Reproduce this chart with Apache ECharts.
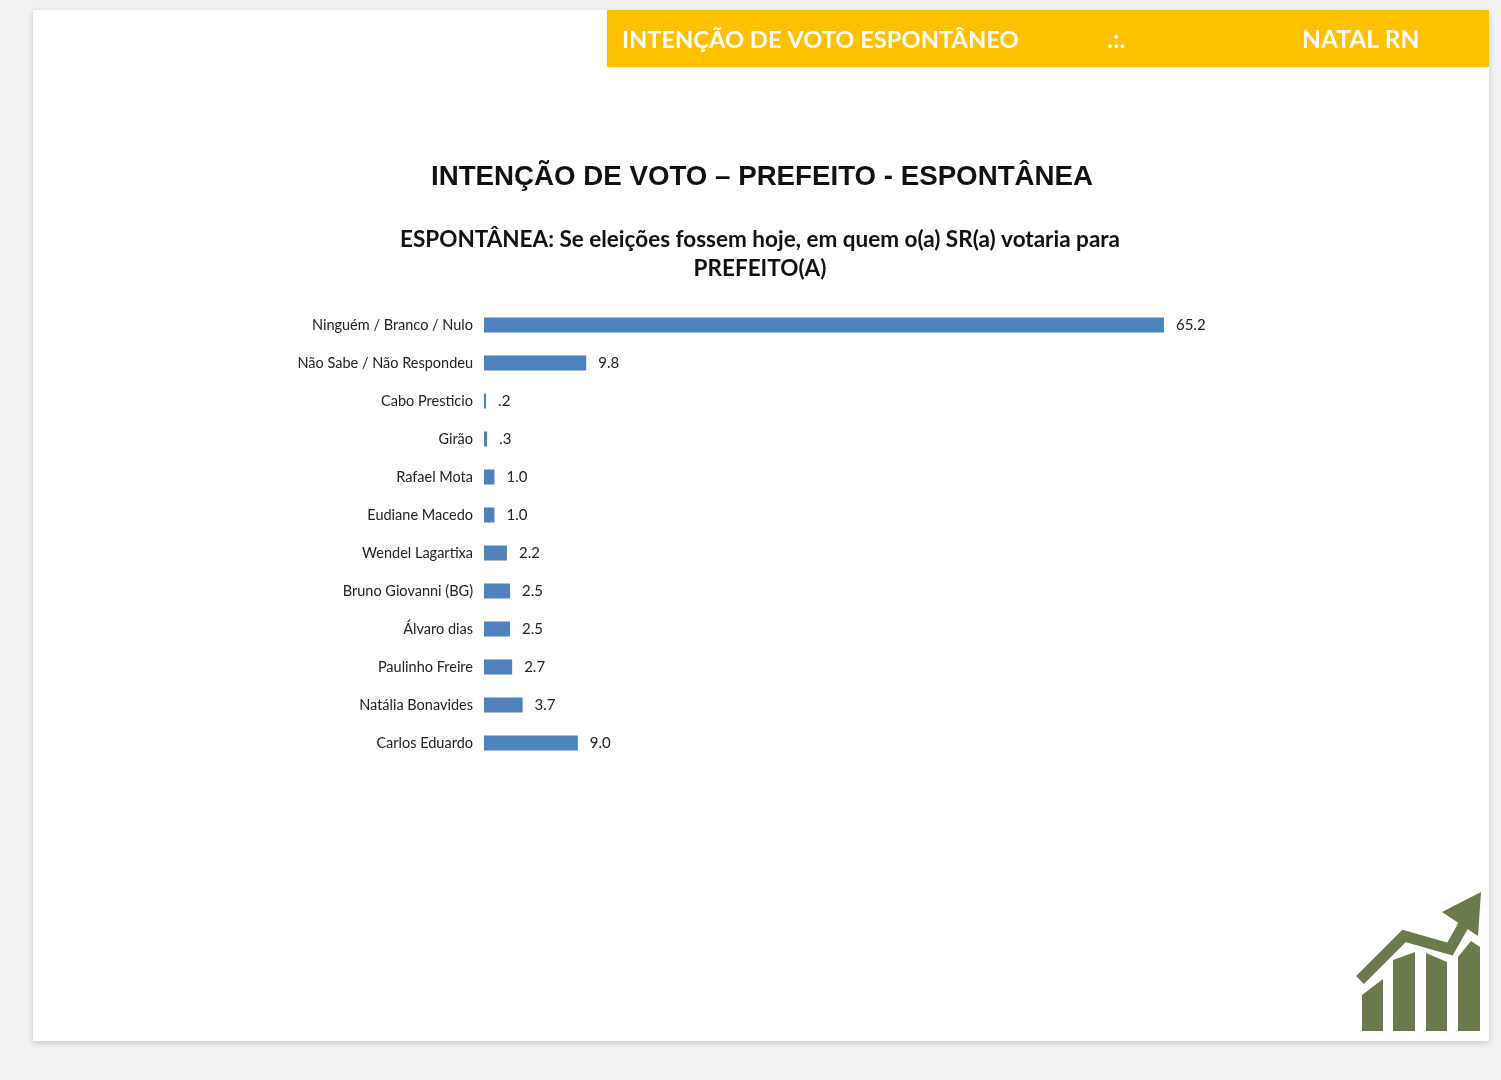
<!DOCTYPE html>
<html><head><meta charset="utf-8">
<script src="https://cdn.jsdelivr.net/npm/echarts@6/dist/echarts.min.js"></script>
<style>html,body{margin:0;padding:0;background:#f1f2f4}#c{width:1501px;height:1080px}</style>
</head><body><div id="c"></div>
<script>
const categories = ["Ninguém / Branco / Nulo","Não Sabe / Não Respondeu","Cabo Presticio","Girão","Rafael Mota","Eudiane Macedo","Wendel Lagartixa","Bruno Giovanni (BG)","Álvaro dias","Paulinho Freire","Natália Bonavides","Carlos Eduardo"];
const values = [65.2,9.8,0.2,0.3,1.0,1.0,2.2,2.5,2.5,2.7,3.7,9.0];
const titleText = "INTENÇÃO DE VOTO – PREFEITO - ESPONTÂNEA";
const subtitleText = "ESPONTÂNEA: Se eleições fossem hoje, em quem o(a) SR(a) votaria para\nPREFEITO(A)";

const chart = echarts.init(document.getElementById('c'));
const green = '#6a7a4a';
chart.setOption({
  backgroundColor: '#f1f2f4',
  animation: false,
  graphic: [
    {type:'rect', z:-10, shape:{x:33,y:10,width:1456,height:1031}, style:{fill:'#fff', shadowBlur:6, shadowColor:'rgba(0,0,0,0.18)', shadowOffsetY:2}},
    {type:'rect', z:-5, shape:{x:607,y:10,width:882,height:57}, style:{fill:'#ffc000'}},
    {type:'text', x:622, y:40, style:{text:'INTENÇÃO DE VOTO ESPONTÂNEO', fill:'#fff', font:'bold 23.7px Lato', textVerticalAlign:'middle'}},
    {type:'text', x:1107, y:40, style:{text:'.:.', fill:'#fff', font:'bold 25px Lato', textVerticalAlign:'middle'}},
    {type:'text', x:1302, y:40, style:{text:'NATAL RN', fill:'#fff', font:'bold 24.5px Lato', textVerticalAlign:'middle'}},
    {type:'polygon', shape:{points:[[1362,995],[1383,979],[1383,1031],[1362,1031]]}, style:{fill:green}},
    {type:'polygon', shape:{points:[[1393,960],[1415,952],[1415,1031],[1393,1031]]}, style:{fill:green}},
    {type:'polygon', shape:{points:[[1426,953],[1447,962],[1447,1031],[1426,1031]]}, style:{fill:green}},
    {type:'polygon', shape:{points:[[1458,957],[1471,941],[1480,947],[1480,1031],[1458,1031]]}, style:{fill:green}},
    {type:'polyline', shape:{points:[[1360,980],[1404,936],[1450,949],[1467,919]]}, style:{stroke:green, lineWidth:11, fill:null, lineJoin:'miter'}},
    {type:'polygon', shape:{points:[[1481,892],[1442,912],[1478,936]]}, style:{fill:green}}
  ],
  title: [
    {text:titleText, left:757, top:158, textAlign:'center', textStyle:{fontFamily:'Liberation Sans', fontWeight:'bold', fontSize:27.7, color:'#111'}},
    {text:subtitleText, left:755, top:220, textAlign:'center', textStyle:{fontFamily:'Lato', fontWeight:'bold', fontSize:22.5, lineHeight:29, color:'#111'}}
  ],
  grid: {left:484, top:306, width:730, height:456, containLabel:false},
  xAxis: {type:'value', min:0, max:70, show:false},
  yAxis: {type:'category', data:categories, inverse:true,
    axisLine:{show:false}, axisTick:{show:false}, splitLine:{show:false},
    axisLabel:{margin:11, fontFamily:'Lato', fontSize:14.5, color:'#222'}},
  series: [{type:'bar', data:values, barWidth:15, itemStyle:{color:'#4f81bd'},
    label:{show:true, position:'right', distance:12, fontFamily:'Lato', fontSize:15, color:'#222',
      formatter: p => p.value.toFixed(1).replace(/^0\./,'.')}}]
});
</script></body></html>
